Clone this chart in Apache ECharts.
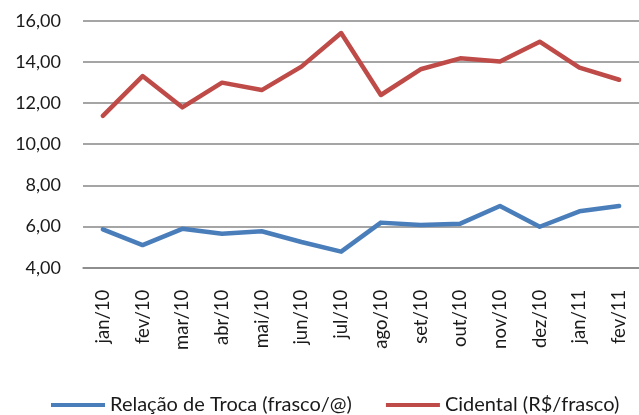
<!DOCTYPE html>
<html>
<head>
<meta charset="utf-8">
<script src="https://cdn.jsdelivr.net/npm/echarts@6/dist/echarts.min.js"></script>
<style>
  html, body { margin: 0; padding: 0; background: #fff; }
  #chart { width: 639px; height: 415px; }
</style>
</head>
<body>
<div id="chart"></div>
<script>
const months = ['jan/10', 'fev/10', 'mar/10', 'abr/10', 'mai/10', 'jun/10', 'jul/10',
  'ago/10', 'set/10', 'out/10', 'nov/10', 'dez/10', 'jan/11', 'fev/11']
const relacaoTroca = [5.86, 5.10, 5.89, 5.65, 5.77, 5.25, 4.78, 6.19, 6.07, 6.14, 7.00, 5.99, 6.74, 7.00]
const cidental = [11.38, 13.31, 11.79, 12.99, 12.63, 13.77, 15.40, 12.39, 13.64, 14.17, 14.02, 14.98, 13.72, 13.13]

const fontFamily = 'Lato, "Open Sans", sans-serif'
const gridColor = '#878787'

const chart = echarts.init(document.getElementById('chart'))

const option = {
  animation: false,
  grid: {
    left: 83,
    top: 20.7,
    width: 565,
    bottom: 147.3
  },
  legend: {
    left: 46,
    top: 390,
    itemWidth: 54,
    itemHeight: 4,
    itemGap: 34,
    icon: 'rect',
    textStyle: { fontFamily: fontFamily, fontSize: 20, color: '#1a1a1a' },
    data: ['Relação de Troca (frasco/@)', 'Cidental (R$/frasco)']
  },
  xAxis: {
    type: 'category',
    data: months,
    boundaryGap: true,
    axisLine: { lineStyle: { color: gridColor, width: 1.5 } },
    axisTick: { show: false },
    axisLabel: {
      rotate: 90,
      margin: 22,
      interval: 0,
      fontFamily: fontFamily,
      fontSize: 18.5,
      color: '#1a1a1a'
    }
  },
  yAxis: {
    type: 'value',
    min: 4,
    max: 16,
    interval: 2,
    axisLine: { show: false },
    axisTick: { show: false },
    splitLine: { lineStyle: { color: gridColor, width: 1.5 } },
    axisLabel: {
      margin: 22,
      fontFamily: fontFamily,
      fontSize: 18,
      color: '#1a1a1a',
      formatter: (v) => v.toFixed(2).replace('.', ',')
    }
  },
  series: [
    {
      name: 'Relação de Troca (frasco/@)',
      type: 'line',
      data: relacaoTroca,
      showSymbol: false,
      color: '#4A7EBB',
      lineStyle: { width: 4.5, cap: 'round', join: 'round' }
    },
    {
      name: 'Cidental (R$/frasco)',
      type: 'line',
      data: cidental,
      showSymbol: false,
      color: '#BE4B48',
      lineStyle: { width: 4.5, cap: 'round', join: 'round' }
    }
  ]
}

chart.setOption(option)
</script>
</body>
</html>
